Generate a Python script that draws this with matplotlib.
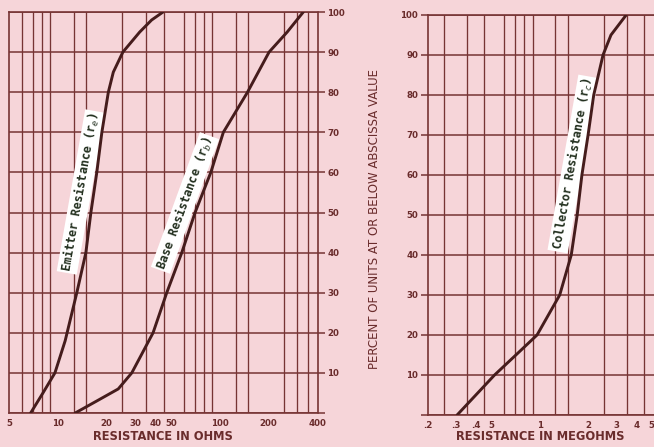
import matplotlib
matplotlib.use("Agg")
import matplotlib.pyplot as plt
from matplotlib.ticker import FixedLocator, NullFormatter

# ---------------- data ----------------
emitter_pct = [0, 5, 10, 18, 30, 40, 50, 60, 70, 80, 85, 90, 95, 98, 100]
emitter_ohms = [6.8, 8.1, 9.6, 11.1, 13.1, 14.9, 16.0, 17.4, 18.7, 20.5, 22.0, 25.2, 32.0, 37.9, 44.6]

base_pct = [0, 3, 6, 10, 20, 30, 40, 50, 60, 70, 80, 90, 95, 100]
base_ohms = [12.8, 17.4, 23.6, 28.6, 38.7, 47.0, 58.2, 70.3, 87.9, 105, 148, 201, 260, 327]

collector_pct = [0, 5, 10, 15, 20, 30, 40, 50, 60, 70, 80, 90, 95, 100]
collector_megohms = [0.304, 0.398, 0.521, 0.708, 0.96, 1.33, 1.57, 1.71, 1.83, 2.0, 2.17, 2.48, 2.78, 3.46]

left_xticks = [5, 10, 20, 30, 40, 50, 100, 200, 400]
left_xticklabels = ["5", "10", "20", "30", "40", "50", "100", "200", "400"]
right_xticks = [0.2, 0.3, 0.4, 0.5, 1, 2, 3, 4, 5]
right_xticklabels = [".2", ".3", ".4", "5", "1", "2", "3", "4", "5"]
y_ticks = [0, 10, 20, 30, 40, 50, 60, 70, 80, 90, 100]
y_ticklabels = ["", "10", "20", "30", "40", "50", "60", "70", "80", "90", "100"]

grid_subs = [1, 1.25, 1.5, 2, 2.5, 3, 3.5, 4, 4.5, 5, 6, 7, 8, 9]

# ---------------- style ----------------
BG = "#f6d5d9"
GRID = "#763434"
CURVE = "#451c1c"
TXT = "#6a2c2c"
LBL = "#23301f"

W, H = 654, 447
fig = plt.figure(figsize=(W / 100, H / 100), dpi=100, facecolor=BG)


def frac(x0, y0, x1, y1):
    return [x0 / W, 1 - y1 / H, (x1 - x0) / W, (y1 - y0) / H]


def grid_positions(lo, hi):
    out = []
    dec = 0.01
    while dec < 10000:
        for s in grid_subs:
            v = dec * s
            if lo * 0.999 <= v <= hi * 1.001:
                out.append(v)
        dec *= 10
    return out


def style_axes(ax, xlo, xhi, xticks, xlabels, yside):
    ax.set_facecolor(BG)
    ax.set_xscale("log")
    ax.set_xlim(xlo, xhi)
    ax.set_ylim(0, 100)
    ax.xaxis.set_major_locator(FixedLocator(xticks))
    ax.set_xticklabels(xlabels)
    ax.xaxis.set_minor_locator(FixedLocator(grid_positions(xlo, xhi)))
    ax.xaxis.set_minor_formatter(NullFormatter())
    ax.tick_params(axis="x", which="both", length=0, pad=4,
                   labelsize=6.2, labelcolor=TXT)
    for t in ax.get_xticklabels():
        t.set_fontweight("bold")
    ax.set_yticks(y_ticks)
    ax.set_yticklabels(y_ticklabels)
    if yside == "right":
        ax.yaxis.tick_right()
    else:
        ax.yaxis.tick_left()
    ax.tick_params(axis="y", which="major", direction="out", length=5,
                   width=1.1, color=GRID, labelsize=6.2, labelcolor=TXT, pad=2)
    for t in ax.get_yticklabels():
        t.set_fontweight("bold")
    ax.grid(True, which="minor", axis="x", color=GRID, linewidth=0.95)
    ax.grid(True, which="major", axis="y", color=GRID, linewidth=1.1)
    for sp in ax.spines.values():
        sp.set_color(GRID)
        sp.set_linewidth(1.2)


LABEL_FONT = dict(family="DejaVu Sans Mono", fontsize=8.5, fontweight="bold",
                  color=LBL, ha="center", va="center", zorder=2.5,
                  clip_on=False)
box = dict(facecolor="white", edgecolor="none", pad=1.2)

# left panel
axL = fig.add_axes(frac(9, 12, 317.5, 413))
style_axes(axL, 5, 400, left_xticks, left_xticklabels, "right")
axL.plot(emitter_ohms, emitter_pct, color=CURVE, linewidth=2.1,
         solid_capstyle="round", zorder=3)
axL.plot(base_ohms, base_pct, color=CURVE, linewidth=2.1,
         solid_capstyle="round", zorder=3)

axL.text(81 / W, 1 - 192 / H, "Emitter Resistance (r$_e$)", rotation=80,
         transform=fig.transFigure, bbox=box, **LABEL_FONT)
axL.text(185 / W, 1 - 203 / H, "Base Resistance (r$_b$)", rotation=70,
         transform=fig.transFigure, bbox=box, **LABEL_FONT)

fig.text(163 / W, 1 - 437 / H, "RESISTANCE IN OHMS", ha="center",
         va="center", fontsize=8.3, fontweight="bold", color=TXT)

# right panel
axR = fig.add_axes(frac(428, 15, 654.5, 415))
style_axes(axR, 0.2, 5.2, right_xticks, right_xticklabels, "left")
axR.plot(collector_megohms, collector_pct, color=CURVE, linewidth=2.1,
         solid_capstyle="round", zorder=3)
axR.text(573 / W, 1 - 164 / H, "Collector Resistance (r$_c$)", rotation=80,
         transform=fig.transFigure, bbox=box, **LABEL_FONT)

fig.text(540 / W, 1 - 437 / H, "RESISTANCE IN MEGOHMS", ha="center",
         va="center", fontsize=8.3, fontweight="bold", color=TXT)

fig.text(375 / W, 1 - 219 / H, "PERCENT OF UNITS AT OR BELOW ABSCISSA VALUE",
         rotation=90, ha="center", va="center", fontsize=8.5, color=TXT)

fig.savefig("out.png", dpi=100, facecolor=BG)
